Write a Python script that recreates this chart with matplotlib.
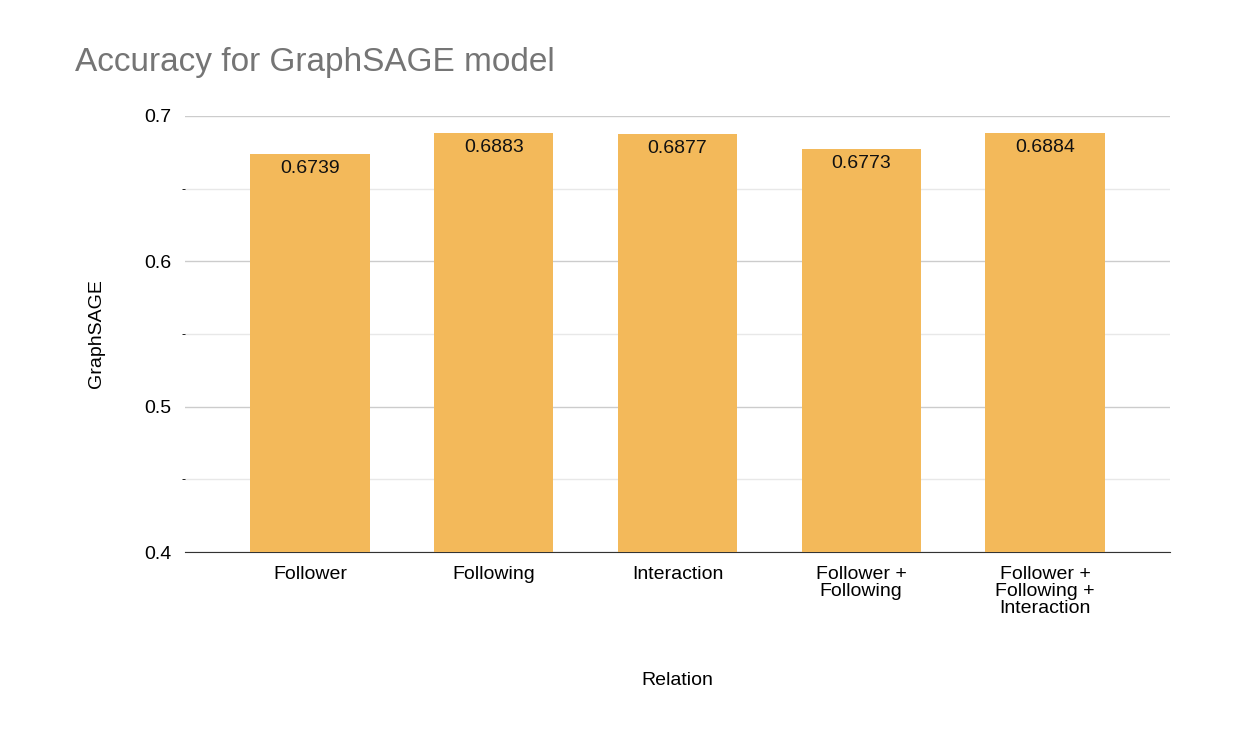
import matplotlib.pyplot as plt
import numpy as np

plt.rcParams['font.family'] = 'Liberation Sans'

relations = ['Follower', 'Following', 'Interaction', 'Follower +\nFollowing', 'Follower +\nFollowing +\nInteraction']
accuracy = [0.6739, 0.6883, 0.6877, 0.6773, 0.6884]
y_ticks = [0.4, 0.5, 0.6, 0.7]

fig = plt.figure(figsize=(12.56, 7.38), dpi=100)
ax = fig.add_axes([0.1473, 0.252, 0.7842, 0.591])

x = np.arange(len(relations))
ax.bar(x, accuracy, width=0.65, color='#F3B95A', zorder=3)
for xi, v in zip(x, accuracy):
    ax.text(xi, v - 0.004, f'{v:.4f}', ha='center', va='top', fontsize=14, color='#111111', zorder=4)

ax.set_ylim(0.4, 0.7)
ax.set_xlim(-0.68, 4.68)
ax.set_yticks(y_ticks)
ax.set_yticklabels([str(t) for t in y_ticks], fontsize=14)
ax.set_yticks(np.arange(0.45, 0.7, 0.1), minor=True)
ax.grid(axis='y', which='major', color='#cccccc', linewidth=1, zorder=0)
ax.grid(axis='y', which='minor', color='#e8e8e8', linewidth=1, zorder=0)
ax.tick_params(axis='both', length=0, labelsize=14, pad=10)
ax.set_xticks(x)
ax.set_xticklabels(relations, fontsize=14, va='top', linespacing=1.0)
for s in ['top', 'right', 'left']:
    ax.spines[s].set_visible(False)
ax.spines['bottom'].set_color('#333333')

ax.set_xlabel('Relation', fontsize=14, labelpad=40)
ax.set_ylabel('GraphSAGE', fontsize=14, labelpad=28)
fig.text(0.06, 0.915, 'Accuracy for GraphSAGE model', fontsize=24, color='#757575', va='center')

fig.savefig('out.png', dpi=100, facecolor='white')
